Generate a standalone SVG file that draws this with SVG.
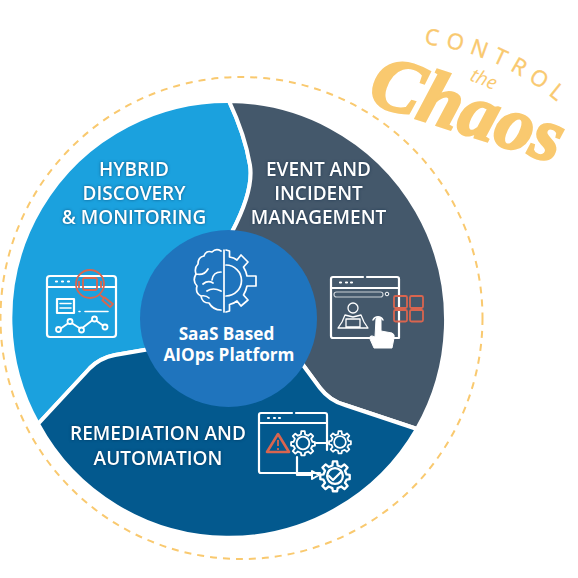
<svg xmlns="http://www.w3.org/2000/svg" width="578" height="578" viewBox="0 0 578 578">
<style>
.seg{stroke:#fff;stroke-width:4;stroke-linejoin:round}
.lab{font-family:"Open Sans","Liberation Sans",sans-serif;font-size:19px;font-weight:600;fill:#fff;text-anchor:middle;filter:drop-shadow(0 0 1.500px rgba(0,30,60,.55))}
.hub{font-size:17.200px;font-weight:700;filter:none}
.w{fill:none;stroke:#fff;stroke-width:2.200;stroke-linecap:round;stroke-linejoin:round}
.t{stroke-width:1.500}
.r{fill:none;stroke:#d9654f;stroke-width:1.800;stroke-linejoin:round}
.y{fill:#f9c96f}
</style>
<defs>
<g id="gear8"><circle r="7.500" class="w"/><path class="w" d="M-2.500-10L-2-14H2L2.500-10L6-8.600L9-11L12-8L9.500-5L11-1.500L14-1V3L11 3.500L9.500 6.500L12 9.500L9 12.500L6 10L2.500 11.500L2 14.500H-2L-2.500 11.500L-6 10L-9 12.500L-12 9.500L-9.500 6.500L-11 3.500L-14 3V-1L-11-1.500L-9.500-5L-12-8L-9-11L-6-8.600Z"/></g>
</defs>
<circle cx="241.500" cy="318" r="241" fill="none" stroke="#f9c96f" stroke-width="2" stroke-dasharray="7 6"/>
<g id="segment-discovery">
<path class="seg" fill="#1ba1de" d="M229 101A217 217 0 0 0 38 424L90 368Q100 358 115 355L150 349L232 232Q254 190 250 165Q245 135 229 101Z"/>
</g>
<g id="segment-event">
<path class="seg" fill="#44586b" d="M229 101Q245 135 250 165Q254 190 232 232L303 365L320 388Q330 401 345 405L417 429A219 219 0 0 0 229 101Z"/>
</g>
<g id="segment-remediation">
<path class="seg" fill="#03598e" d="M38 424L90 368Q100 358 115 355L150 349L303 365L320 388Q330 401 345 405L417 429A217 217 0 0 1 38 424Z"/>
</g>
<g id="hub">
<circle cx="228.500" cy="318.500" r="88.500" fill="#1f74bd"/>
<path class="w" style="stroke-width:1.700" d="M224 250V312M221 251Q216 248 212 252Q206 250 204 256Q198 257 198 264Q194 268 196 274Q192 281 197 286Q195 293 201 296Q202 303 209 303Q213 310 221 310M196 274Q204 276 208 269M221 272Q213 272 212 280M203 284Q208 280 213 283M221 291Q213 287 207 291M201 296Q206 295 209 298"/>
<path class="w" style="stroke-width:1.700" d="M226 250L229.500 251V257Q234 257.500 237 260L241 255L248 262L243.500 267Q246 271 247 276H256V286H247Q246 291 243.500 295L248 300L241 306L237 301Q234 303.500 229.500 304.500V311L226 312M226 265A15 15 0 0 1 226 296"/>
<text class="lab hub" x="226.500" y="340">SaaS Based</text>
<text class="lab hub" x="229" y="361">AIOps Platform</text>
</g>
<g id="label-discovery">
<text class="lab" x="134" y="176">HYBRID</text>
<text class="lab" x="134" y="200">DISCOVERY</text>
<text class="lab" x="134" y="224">&amp; MONITORING</text>
</g>
<g id="label-event">
<text class="lab" x="318.500" y="176">EVENT AND</text>
<text class="lab" x="318.500" y="200">INCIDENT</text>
<text class="lab" x="318.500" y="224">MANAGEMENT</text>
</g>
<g id="label-remediation">
<text class="lab" x="158" y="440">REMEDIATION AND</text>
<text class="lab" x="158" y="465">AUTOMATION</text>
</g>
<g id="icon-discovery">
<rect class="w" x="47" y="276" width="69" height="61" rx="3"/>
<path class="w" d="M47 287H116M56 281.500H57M62 281.500H63M68 281.500H69"/>
<rect class="w" x="57" y="299" width="17" height="14"/>
<path class="w" style="stroke-width:1.600" d="M60 303.500H71M60 308H71M79 311.500H80M85 311.500H108"/>
<path class="w" style="stroke-width:1.800" d="M60 329L70 322L81 329L94 319L105 327"/>
<g fill="#1ba1de" stroke="#fff" stroke-width="1.800"><circle cx="58.500" cy="329.500" r="2.500"/><circle cx="70" cy="321.500" r="2.500"/><circle cx="81.500" cy="330" r="2.500"/><circle cx="94.500" cy="319" r="2.500"/><circle cx="105" cy="327" r="2.500"/></g>
<circle class="r" cx="90" cy="284" r="14"/>
<rect class="r" x="83" y="278" width="14" height="12" rx="2"/>
<path class="r" d="M79 281V288M101 281V288M100 295L104 298L102 301M104 297L113 304L110 307L102 300"/>
</g>
<g id="icon-event">
<path class="w" d="M363 277H333Q331 277 331 279V336Q331 338 333 338H370M367 277H397Q399 277 399 279V338H394"/>
<path class="w" d="M331 288H399M340 282.500H341M346 282.500H347M351 282.500H352"/>
<rect x="334" y="292" width="49" height="5" rx="2.500" fill="none" stroke="#c9d0d6" stroke-width="1.200"/>
<circle cx="387" cy="294" r="1.800" fill="none" stroke="#fff" stroke-width="1"/>
<circle cx="353" cy="308" r="5" fill="none" stroke="#fff" stroke-width="1.300"/>
<path d="M342 322L345 315L353 317L361 315L364 322L368 328H338ZM346 319H360V327H346Z" fill="none" stroke="#fff" stroke-width="1.300" stroke-linejoin="round"/>
<path class="w" style="stroke-width:1.500" d="M373 320A5.500 5.500 0 0 1 383 320"/>
<path d="M376 319Q378 315 381 319V331L392 333Q395 334 394 338L392 348H374L370 339Q369 334 375 337Z" fill="#fff" stroke="#fff" stroke-width="1" stroke-linejoin="round"/>
<g class="r"><rect x="394" y="296" width="13" height="12" rx="1.500"/><rect x="410" y="296" width="13" height="12" rx="1.500"/><rect x="394" y="310" width="13" height="11.500" rx="1.500"/><rect x="410" y="310" width="13" height="11.500" rx="1.500"/></g>
</g>
<g id="icon-remediation">
<path class="w" d="M292 413H261Q259 413 259 415V471Q259 473 261 473H320M296 413H325Q327 413 327 415V450"/>
<path class="w" d="M259 423H327M268 418H269M274 418H275M279 418H280"/>
<path d="M278 434L267 452H289Z" fill="none" stroke="#d9654f" stroke-width="2.600" stroke-linejoin="round"/>
<path d="M278 440V446M278 448V450" stroke="#d9654f" stroke-width="1.800"/>
<use href="#gear8" transform="translate(303 443) scale(.85)"/>
<use href="#gear8" transform="translate(340 442) scale(.78)"/>
<use href="#gear8" transform="translate(335 476) scale(1.050)"/>
<path class="w" d="M316 443H328M297 457V475H312"/>
<path d="M312 471L319 475L312 479Z" fill="none" stroke="#fff" stroke-width="2" stroke-linejoin="round"/>
<path class="w" d="M329 476L333 480L341 472"/>
</g>
<g id="title">
<path id="arc" d="M424 44Q498 52 560 104" fill="none"/>
<text class="y" stroke="#f9c96f" stroke-width=".4" style="font-family:'Open Sans',sans-serif;font-size:22px;letter-spacing:7.500px"><textPath href="#arc">CONTROL</textPath></text>
<text class="y" transform="translate(469 80) rotate(22)" style="font-family:'Open Sans',sans-serif;font-style:italic;font-size:19px">the</text>
<text class="y" transform="translate(366 102) rotate(18)" stroke="#f9c96f" stroke-width="2.500" style="font-family:'Liberation Serif',serif;font-style:italic;font-weight:700;font-size:76px">Chaos</text>
</g>
</svg>
